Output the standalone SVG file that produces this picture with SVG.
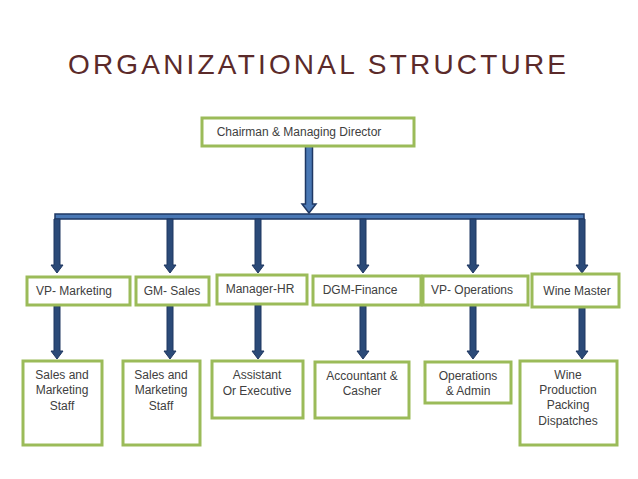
<svg xmlns="http://www.w3.org/2000/svg" width="638" height="479" viewBox="0 0 638 479">
<style>
.box{fill:#ffffff;stroke:#9bbb59;stroke-width:3}
.t{font-family:"Liberation Sans",Arial,sans-serif;font-size:12px;fill:#404040;text-anchor:middle}
.arr{fill:#2b4a78;stroke:#1f3660;stroke-width:1}
.main{fill:#4a78b5;stroke:#1f3864;stroke-width:1.5}
</style>
<rect width="638" height="479" fill="#ffffff"/>
<text x="317" y="74" font-family="'Liberation Sans',Arial,sans-serif" font-size="28" fill="#5b2a2a" text-anchor="middle" textLength="498" lengthAdjust="spacing">ORGANIZATIONAL STRUCTURE</text>

<g id="connectors">
  <path class="main" d="M305.5,146 H312.5 V204 H316 L309,213 L302,204 H305.5 Z"/>
  <rect class="main" x="55" y="214" width="529" height="5"/>
  <path class="arr" d="M54,219 H60 V265 H63 L57,273 L51,265 H54 Z"/>
  <path class="arr" d="M167,219 H173 V265 H176 L170,273 L164,265 H167 Z"/>
  <path class="arr" d="M255,219 H261 V265 H264 L258,273 L252,265 H255 Z"/>
  <path class="arr" d="M360,219 H366 V265 H369 L363,273 L357,265 H360 Z"/>
  <path class="arr" d="M470,219 H476 V265 H479 L473,273 L467,265 H470 Z"/>
  <path class="arr" d="M579,219 H585 V265 H588 L582,273 L576,265 H579 Z"/>
  <path class="arr" d="M54,306 H60 V351 H63 L57,359 L51,351 H54 Z"/>
  <path class="arr" d="M167,306 H173 V351 H176 L170,359 L164,351 H167 Z"/>
  <path class="arr" d="M255,305 H261 V351 H264 L258,359 L252,351 H255 Z"/>
  <path class="arr" d="M360,306 H366 V351 H369 L363,359 L357,351 H360 Z"/>
  <path class="arr" d="M470,306 H476 V351 H479 L473,359 L467,351 H470 Z"/>
  <path class="arr" d="M579,308 H585 V351 H588 L582,359 L576,351 H579 Z"/>
</g>

<g id="chairman"><rect class="box" x="202" y="118" width="212" height="28"/><text class="t" x="299" y="136">Chairman &amp; Managing Director</text></g>

<g id="vp-marketing"><rect class="box" x="27" y="277" width="103" height="28"/><text class="t" x="74" y="295">VP- Marketing</text></g>
<g id="gm-sales"><rect class="box" x="136" y="277" width="73" height="28"/><text class="t" x="172" y="295">GM- Sales</text></g>
<g id="manager-hr"><rect class="box" x="217" y="275" width="90" height="29"/><text class="t" x="260" y="293">Manager-HR</text></g>
<g id="dgm-finance"><rect class="box" x="313" y="276" width="108" height="29"/><text class="t" x="360" y="294">DGM-Finance</text></g>
<g id="vp-operations"><rect class="box" x="423" y="276" width="105" height="29"/><text class="t" x="472" y="294">VP- Operations</text></g>
<g id="wine-master"><rect class="box" x="532" y="274" width="87" height="33"/><text class="t" x="577" y="295">Wine Master</text></g>

<g id="sales-staff-1"><rect class="box" x="23" y="361" width="79" height="84"/><text class="t" x="62" y="379">Sales and</text><text class="t" x="62" y="394">Marketing</text><text class="t" x="62" y="410">Staff</text></g>
<g id="sales-staff-2"><rect class="box" x="123" y="361" width="77" height="84"/><text class="t" x="161" y="379">Sales and</text><text class="t" x="161" y="394">Marketing</text><text class="t" x="161" y="410">Staff</text></g>
<g id="assistant"><rect class="box" x="212" y="361" width="91" height="57"/><text class="t" x="257" y="379">Assistant</text><text class="t" x="257" y="395">Or Executive</text></g>
<g id="accountant"><rect class="box" x="315" y="362" width="94" height="56"/><text class="t" x="362" y="380">Accountant &amp;</text><text class="t" x="362" y="395">Casher</text></g>
<g id="operations-admin"><rect class="box" x="425" y="362" width="86" height="41"/><text class="t" x="468" y="380">Operations</text><text class="t" x="468" y="395">&amp; Admin</text></g>
<g id="wine-production"><rect class="box" x="520" y="361" width="97" height="84"/><text class="t" x="568" y="379">Wine</text><text class="t" x="568" y="394">Production</text><text class="t" x="568" y="409">Packing</text><text class="t" x="568" y="425">Dispatches</text></g>
</svg>
